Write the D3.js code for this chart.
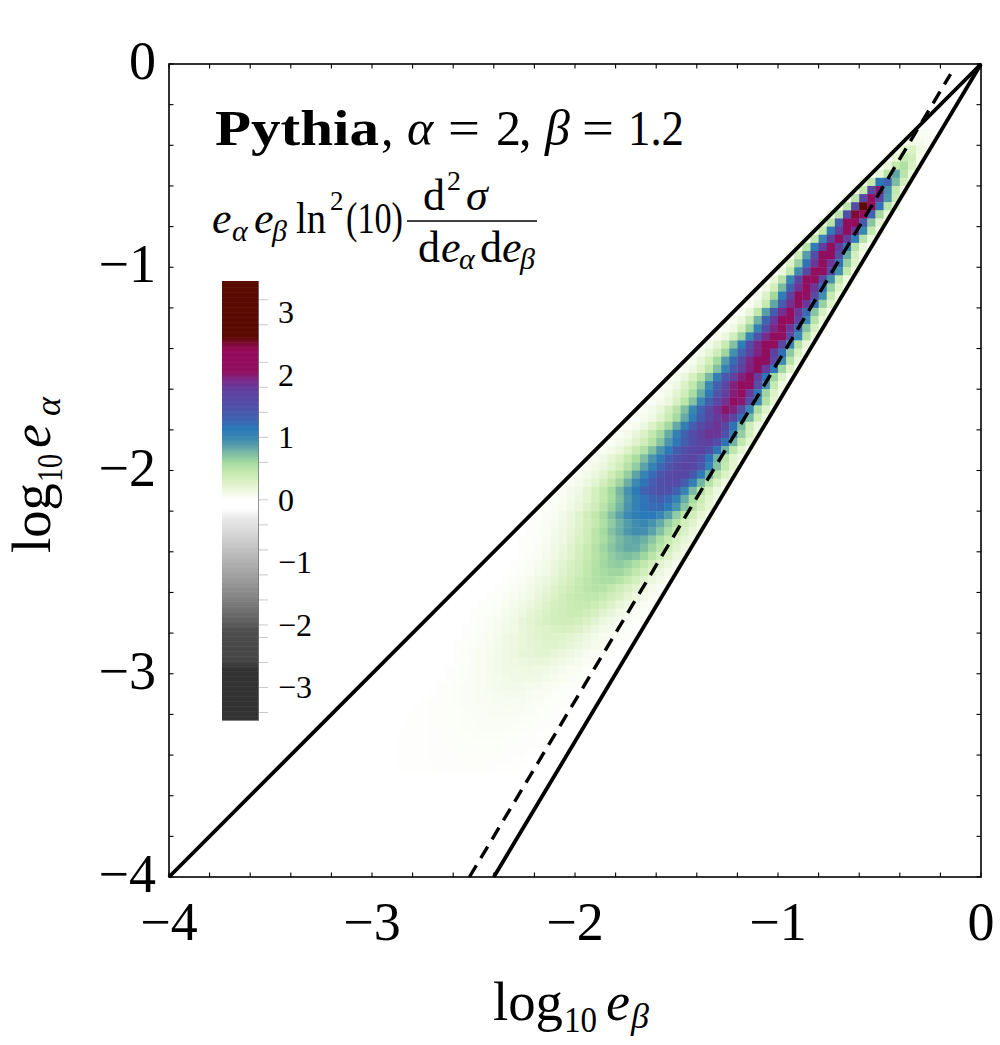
<!DOCTYPE html>
<html><head><meta charset="utf-8">
<script src="https://cdn.jsdelivr.net/npm/d3@7"></script>
<style>
body{margin:0;background:#fff}
text{font-family:"Liberation Serif","Times New Roman",serif;fill:#000}
</style>
</head><body>
<svg id="chart" width="1000" height="1045"></svg>
<script>
// ---------------- data ----------------
const xDomain = [-4, 0];
const yDomain = [-4, 0];
const xTicks = [-4, -3, -2, -1, 0];
const yTicks = [-4, -3, -2, -1, 0];
const minorStep = 0.2;
const cellSize = 0.04; // bin width in log10 units

// each entry: [row (from top, bin of log10 e_alpha), first column (bin of log10 e_beta), values...]
const heatRows = [
[8,91,[0.03,0.06,0.06,0.03]],
[9,90,[0.05,0.12,0.1,0.05]],
[10,89,[0.06,0.22,0.3,0.15,0.06]],
[11,88,[0.06,0.2,0.42,0.35,0.12]],
[12,87,[0.05,0.18,0.45,0.55,0.3,0.1]],
[13,86,[0.05,0.2,0.5,0.85,0.5,0.18]],
[14,85,[0.15,0.45,1.15,1.3,0.75,0.35]],
[15,84,[0.12,0.45,1.6,2.0,0.95,0.45,0.15]],
[16,83,[0.1,0.5,1.6,2.2,1.65,0.9,0.4]],
[17,82,[0.15,0.5,1.55,2.9,2.3,1.2,0.5,0.2]],
[18,81,[0.2,0.5,1.5,2.5,2.2,1.3,0.6,0.2]],
[19,80,[0.2,0.5,1.3,2.2,2.3,1.4,0.7,0.25]],
[20,79,[0.15,0.45,1.1,1.7,2.2,1.85,1.0,0.45,0.15]],
[21,78,[0.14,0.46,1.03,1.75,2.15,1.77,1.09,0.52,0.18]],
[22,77,[0.18,0.53,1.1,1.76,2.15,1.77,1.09,0.52,0.18,0.04]],
[23,76,[0.13,0.4,0.88,1.55,2.13,2.12,1.51,0.82,0.34,0.1]],
[24,75,[0.09,0.28,0.65,1.2,1.83,2.15,1.83,1.2,0.65,0.28]],
[25,74,[0.05,0.17,0.47,0.98,1.62,2.15,2.14,1.6,0.96,0.45,0.16]],
[26,73,[0.06,0.2,0.52,1.02,1.65,2.15,2.14,1.6,0.96,0.45,0.16]],
[27,72,[0.04,0.14,0.36,0.76,1.3,1.86,2.15,1.83,1.2,0.65,0.28,0.09]],
[28,71,[0.03,0.09,0.27,0.61,1.1,1.7,2.16,2.14,1.6,0.96,0.45,0.16]],
[29,70,[0.02,0.06,0.17,0.43,0.84,1.37,1.88,2.15,1.83,1.2,0.65,0.28]],
[30,69,[0.02,0.07,0.19,0.46,0.87,1.39,1.89,2.15,1.81,1.26,0.71,0.32,0.11]],
[31,68,[0.02,0.07,0.18,0.41,0.79,1.27,1.81,2.18,2.15,1.65,1.02,0.52,0.2]],
[32,67,[0.02,0.06,0.15,0.34,0.65,1.05,1.53,1.94,2.15,1.81,1.26,0.71,0.32,0.11]],
[33,66,[0.03,0.07,0.17,0.35,0.64,1.02,1.46,1.9,2.2,2.15,1.65,1.02,0.52,0.2]],
[34,65,[0.04,0.11,0.22,0.42,0.72,1.1,1.53,1.93,2.2,2.15,1.65,1.02,0.52,0.2]],
[35,64,[0.04,0.1,0.21,0.38,0.63,0.95,1.3,1.68,1.95,2.1,1.76,1.23,0.69,0.32,0.1]],
[36,63,[0.04,0.1,0.2,0.36,0.6,0.89,1.23,1.6,1.94,2.16,2.09,1.61,0.99,0.51,0.2]],
[37,62,[0.04,0.08,0.15,0.29,0.48,0.73,1.04,1.38,1.72,1.96,2.1,1.79,1.18,0.63,0.27,0.08]],
[38,61,[0.04,0.09,0.18,0.32,0.51,0.77,1.08,1.41,1.73,1.97,2.1,1.79,1.18,0.63,0.27,0.08]],
[39,60,[0.04,0.08,0.15,0.29,0.45,0.69,0.99,1.32,1.67,1.96,2.16,2.08,1.56,0.94,0.44,0.15]],
[40,59,[0.03,0.06,0.12,0.22,0.37,0.58,0.82,1.12,1.45,1.76,1.98,2.1,1.79,1.18,0.63,0.27,0.08]],
[41,58,[0.03,0.05,0.1,0.18,0.31,0.49,0.72,1.0,1.31,1.64,1.88,2.06,2.0,1.56,1.0,0.54,0.22]],
[42,57,[0.03,0.06,0.11,0.19,0.33,0.51,0.74,1.0,1.3,1.61,1.85,2.02,1.96,1.56,1.01,0.57,0.27,0.09]],
[43,56,[0.02,0.04,0.09,0.15,0.26,0.41,0.6,0.83,1.09,1.37,1.62,1.8,1.9,1.67,1.23,0.77,0.4,0.17]],
[44,55,[0.03,0.05,0.09,0.17,0.28,0.43,0.61,0.83,1.08,1.35,1.58,1.76,1.85,1.63,1.19,0.75,0.39,0.17]],
[45,54,[0.03,0.06,0.11,0.19,0.29,0.44,0.61,0.82,1.06,1.3,1.55,1.73,1.86,1.82,1.51,1.06,0.66,0.34,0.15]],
[46,53,[0.03,0.06,0.1,0.16,0.25,0.37,0.53,0.71,0.91,1.13,1.36,1.54,1.68,1.75,1.56,1.19,0.79,0.46,0.23]],
[47,52,[0.04,0.07,0.11,0.18,0.28,0.41,0.55,0.73,0.92,1.13,1.34,1.5,1.64,1.7,1.52,1.18,0.8,0.48,0.24,0.1]],
[48,51,[0.05,0.08,0.13,0.21,0.3,0.43,0.58,0.74,0.92,1.12,1.32,1.47,1.59,1.65,1.49,1.17,0.81,0.5,0.26,0.12]],
[49,50,[0.03,0.07,0.11,0.17,0.26,0.37,0.51,0.67,0.86,1.05,1.26,1.45,1.58,1.68,1.66,1.42,1.07,0.73,0.45,0.24]],
[50,49,[0.03,0.07,0.11,0.17,0.26,0.37,0.5,0.66,0.85,1.04,1.24,1.43,1.56,1.66,1.64,1.43,1.11,0.79,0.5,0.29,0.15]],
[51,48,[0.03,0.06,0.1,0.16,0.24,0.35,0.48,0.63,0.81,0.99,1.18,1.36,1.49,1.58,1.56,1.37,1.08,0.78,0.51,0.3,0.16]],
[52,47,[0.03,0.06,0.1,0.15,0.23,0.33,0.46,0.6,0.77,0.94,1.12,1.29,1.41,1.5,1.49,1.31,1.04,0.76,0.51,0.31,0.17,0.08]],
[53,46,[0.03,0.04,0.07,0.11,0.17,0.24,0.34,0.46,0.59,0.74,0.9,1.06,1.17,1.27,1.32,1.23,1.06,0.82,0.59,0.4,0.24,0.13]],
[54,46,[0.03,0.05,0.08,0.13,0.19,0.28,0.38,0.5,0.64,0.78,0.93,1.07,1.17,1.24,1.23,1.11,0.92,0.71,0.51,0.34,0.21]],
[55,45,[0.02,0.05,0.07,0.12,0.18,0.26,0.35,0.46,0.59,0.72,0.86,0.99,1.08,1.14,1.14,1.03,0.87,0.68,0.5,0.35,0.22,0.13]],
[56,44,[0.02,0.03,0.05,0.08,0.13,0.18,0.26,0.35,0.45,0.56,0.68,0.8,0.89,0.97,1.0,0.94,0.83,0.67,0.51,0.37,0.25,0.15]],
[57,44,[0.02,0.04,0.06,0.1,0.15,0.21,0.29,0.38,0.49,0.6,0.72,0.82,0.9,0.96,0.95,0.86,0.73,0.57,0.42,0.29,0.18,0.11]],
[58,43,[0.02,0.03,0.04,0.07,0.11,0.15,0.22,0.3,0.38,0.48,0.58,0.68,0.76,0.82,0.85,0.8,0.7,0.57,0.43,0.31,0.21,0.13]],
[59,43,[0.02,0.03,0.05,0.08,0.13,0.18,0.25,0.33,0.42,0.52,0.62,0.71,0.78,0.83,0.82,0.74,0.63,0.5,0.37,0.25,0.16]],
[60,43,[0.02,0.04,0.06,0.1,0.14,0.2,0.26,0.34,0.42,0.51,0.6,0.67,0.72,0.75,0.71,0.62,0.5,0.38,0.27,0.18,0.11]],
[61,42,[0.02,0.03,0.05,0.09,0.12,0.18,0.24,0.31,0.38,0.46,0.54,0.61,0.66,0.68,0.64,0.56,0.46,0.35,0.25,0.17,0.1]],
[62,42,[0.03,0.04,0.06,0.1,0.14,0.19,0.25,0.32,0.39,0.47,0.54,0.59,0.62,0.62,0.55,0.46,0.35,0.26,0.17,0.1,0.06]],
[63,41,[0.02,0.04,0.06,0.09,0.13,0.17,0.23,0.29,0.36,0.43,0.49,0.54,0.57,0.57,0.51,0.44,0.34,0.25,0.17,0.11,0.07]],
[64,40,[0.02,0.03,0.05,0.08,0.12,0.16,0.21,0.27,0.33,0.39,0.45,0.49,0.52,0.51,0.46,0.39,0.31,0.23,0.16,0.1,0.06]],
[65,39,[0.02,0.03,0.05,0.07,0.11,0.14,0.19,0.24,0.3,0.36,0.41,0.45,0.47,0.47,0.43,0.37,0.3,0.22,0.16,0.11,0.07,0.04]],
[66,38,[0.02,0.03,0.04,0.07,0.1,0.13,0.17,0.22,0.27,0.33,0.37,0.41,0.43,0.43,0.4,0.34,0.27,0.2,0.15,0.1,0.06,0.03]],
[67,37,[0.02,0.03,0.04,0.06,0.09,0.12,0.16,0.21,0.25,0.3,0.35,0.38,0.4,0.4,0.37,0.32,0.25,0.19,0.14,0.09,0.06,0.03,0.02]],
[68,37,[0.02,0.04,0.06,0.08,0.11,0.15,0.19,0.24,0.28,0.32,0.35,0.37,0.37,0.34,0.29,0.23,0.17,0.13,0.08,0.05,0.03,0.02]],
[69,36,[0.02,0.03,0.04,0.06,0.08,0.11,0.14,0.18,0.22,0.26,0.28,0.31,0.32,0.3,0.27,0.22,0.17,0.12,0.09,0.06,0.03,0.02]],
[70,36,[0.02,0.04,0.05,0.07,0.1,0.13,0.16,0.19,0.22,0.25,0.27,0.28,0.26,0.24,0.2,0.16,0.12,0.08,0.06,0.04,0.02]],
[71,35,[0.02,0.03,0.04,0.06,0.08,0.1,0.13,0.16,0.19,0.22,0.24,0.26,0.26,0.23,0.2,0.17,0.13,0.09,0.07,0.04,0.02]],
[72,35,[0.02,0.04,0.05,0.07,0.09,0.12,0.14,0.17,0.2,0.21,0.23,0.23,0.21,0.18,0.15,0.11,0.08,0.06,0.04,0.02]],
[73,35,[0.02,0.03,0.05,0.07,0.09,0.11,0.13,0.15,0.17,0.18,0.19,0.18,0.16,0.13,0.11,0.08,0.06,0.04,0.02]],
[74,34,[0.02,0.03,0.04,0.06,0.07,0.09,0.11,0.13,0.14,0.15,0.16,0.15,0.14,0.11,0.09,0.07,0.05,0.03,0.02]],
[75,34,[0.02,0.03,0.04,0.06,0.07,0.09,0.1,0.12,0.13,0.14,0.14,0.13,0.11,0.09,0.07,0.05,0.04,0.02]],
[76,33,[0.02,0.03,0.04,0.05,0.06,0.07,0.09,0.1,0.11,0.11,0.11,0.1,0.09,0.07,0.06,0.04,0.03,0.02]],
[77,32,[0.015,0.02,0.03,0.04,0.05,0.06,0.07,0.08,0.09,0.09,0.095,0.09,0.08,0.07,0.055,0.04,0.03,0.02]],
[78,31,[0.015,0.02,0.025,0.03,0.04,0.05,0.055,0.065,0.07,0.075,0.08,0.08,0.075,0.065,0.055,0.045,0.035,0.025,0.015]],
[79,30,[0.012,0.015,0.02,0.025,0.03,0.035,0.045,0.05,0.055,0.065,0.068,0.07,0.068,0.062,0.055,0.045,0.035,0.025,0.015]],
[80,29,[0.01,0.012,0.015,0.02,0.025,0.03,0.035,0.04,0.045,0.05,0.055,0.06,0.06,0.057,0.052,0.045,0.037,0.028,0.02,0.012]],
[81,29,[0.01,0.012,0.015,0.02,0.024,0.028,0.033,0.038,0.042,0.046,0.05,0.05,0.047,0.043,0.037,0.03,0.023,0.016,0.01]],
[82,28,[0.008,0.01,0.012,0.015,0.018,0.022,0.026,0.03,0.033,0.036,0.039,0.04,0.039,0.036,0.032,0.027,0.021,0.015,0.01]],
[83,28,[0.008,0.01,0.012,0.014,0.017,0.02,0.023,0.026,0.029,0.032,0.034,0.035,0.034,0.031,0.027,0.022,0.017,0.012,0.008]],
[84,27,[0.007,0.009,0.011,0.013,0.015,0.017,0.02,0.022,0.025,0.027,0.029,0.03,0.029,0.027,0.024,0.02,0.016,0.012,0.008]],
[85,27,[0.006,0.008,0.01,0.012,0.014,0.016,0.018,0.02,0.022,0.024,0.025,0.025,0.024,0.021,0.018,0.014,0.01,0.007]],
[86,26,[0.005,0.006,0.008,0.01,0.011,0.013,0.015,0.017,0.018,0.019,0.02,0.02,0.019,0.017,0.014,0.011,0.008,0.005]]
];

// colour bar
const cbDomain = [-3.52, 3.5];
const cbLabels = [3, 2, 1, 0, -1, -2, -3];
const cbTicks = [3.2, 2.8, 2.2, 1.8, 1.4, 1.0, 0.6, 0, -0.4, -0.8, -1.2, -1.6, -2.0, -2.2, -2.6, -3.0, -3.4];
const cbStops = [-3.52, -2.7, -2.55, -2.1, -1.9, -1.6, -1.3, -1.0, -0.6, -0.3, -0.12, 0, 0.05, 0.15, 0.3, 0.45, 0.6, 0.78, 0.9, 1.0, 1.15, 1.3, 1.5, 1.75, 1.92, 2.05, 2.4, 2.52, 2.62, 3.5];
const cbColors = ["#333333","#333333","#474747","#4d4d4d","#636363","#808080","#999999","#b0b0b0","#d0d0d0","#e8e8e8","#ffffff","#ffffff","#fafdf5","#eef8e2","#daf1c4","#c4e9ae","#a6dba0","#74b6a4","#4f98ab","#3a88b2","#2a78b8","#4062b0","#5050a8","#5f40a0","#7a2a8c","#900f60","#960a5a","#7a0a30","#5a0a00","#5a0a00"];

// reference lines (log10 e_beta, log10 e_alpha)
const upperLine = [[-4, -4], [0, 0]];
const lowerLine = [[-2.4, -4], [0, 0]];
const dashLine  = [[-2.52, -4], [-0.15, -0.05]];

// ---------------- drawing ----------------
const svg = d3.select("#chart");
const L = 169, R = 981, T = 64, B = 877;
const x = d3.scaleLinear().domain(xDomain).range([L, R]);
const y = d3.scaleLinear().domain(yDomain).range([B, T]);
const color = d3.scaleLinear().domain(cbStops).range(cbColors).interpolate(d3.interpolateRgb).clamp(true);

svg.append("rect").attr("width", 1000).attr("height", 1045).attr("fill", "#fff");

// heat map
const cells = heatRows.flatMap(([r, c0, vals]) => vals.map((v, k) => ({r, c: c0 + k, v})));
svg.append("g").selectAll("rect").data(cells.filter(d => d.v > 0.004)).join("rect")
  .attr("x", d => x(xDomain[0] + d.c * cellSize))
  .attr("y", d => y(yDomain[1] - d.r * cellSize))
  .attr("width", d => x(xDomain[0] + (d.c + 1) * cellSize) - x(xDomain[0] + d.c * cellSize) + 0.4)
  .attr("height", d => y(yDomain[1] - (d.r + 1) * cellSize) - y(yDomain[1] - d.r * cellSize) + 0.4)
  .attr("fill", d => color(d.v));

// lines
const line = d3.line().x(d => x(d[0])).y(d => y(d[1]));
svg.append("path").attr("d", line(upperLine)).attr("stroke", "#000").attr("stroke-width", 3.8).attr("fill", "none");
svg.append("path").attr("d", line(lowerLine)).attr("stroke", "#000").attr("stroke-width", 3.8).attr("fill", "none");
svg.append("path").attr("d", line(dashLine)).attr("stroke", "#000").attr("stroke-width", 3.4)
  .attr("stroke-dasharray", "13.5,8.5").attr("fill", "none");

// frame + ticks
const minor = d3.range(0, 21).map(k => xDomain[0] + k * minorStep);
const tg = svg.append("g").attr("stroke", "#000").attr("stroke-width", 1.1);
minor.forEach(v => {
  const px = x(v), py = y(v);
  tg.append("line").attr("x1", px).attr("x2", px).attr("y1", B).attr("y2", B - 4.5);
  tg.append("line").attr("x1", px).attr("x2", px).attr("y1", T).attr("y2", T + 4.5);
  tg.append("line").attr("y1", py).attr("y2", py).attr("x1", L).attr("x2", L + 4.5);
  tg.append("line").attr("y1", py).attr("y2", py).attr("x1", R).attr("x2", R - 4.5);
});
svg.append("rect").attr("x", L).attr("y", T).attr("width", R - L).attr("height", B - T)
  .attr("fill", "none").attr("stroke", "#000").attr("stroke-width", 1.6);

const fmt = v => (v < 0 ? "\u2212" + Math.abs(v) : String(v));
svg.append("g").selectAll("text").data(xTicks).join("text")
  .attr("x", d => x(d)).attr("y", 940).attr("text-anchor", "middle").attr("font-size", 54).text(fmt);
svg.append("g").selectAll("text").data(yTicks).join("text")
  .attr("x", 156).attr("y", d => y(d) + 15).attr("text-anchor", "end").attr("font-size", 54).text(fmt);

// axis titles
function piece(g, str, px, py, size, opts = {}) {
  const t = g.append("text").attr("x", px).attr("y", py).attr("font-size", size).text(str);
  if (opts.italic) t.attr("font-style", "italic");
  if (opts.bold) t.attr("font-weight", "bold");
  if (opts.len) t.attr("textLength", opts.len).attr("lengthAdjust", "spacingAndGlyphs");
  return t;
}
const xt = svg.append("g");
piece(xt, "log", 493, 1020, 54, {len: 70});
piece(xt, "10", 564, 1032, 36, {len: 33});
piece(xt, "e", 606, 1020, 54, {italic: true});
piece(xt, "\u03B2", 631, 1028, 36, {italic: true});

const yt = svg.append("g").attr("transform", "translate(50,553) rotate(-90)");
piece(yt, "log", 0, 0, 54, {len: 70});
piece(yt, "10", 71, 12, 36, {len: 28});
piece(yt, "e", 105, 0, 54, {italic: true});
piece(yt, "\u03B1", 137, 10, 36, {italic: true});

// title
const tt = svg.append("g");
piece(tt, "Pythia", 215, 145, 50, {bold: true, len: 164});
piece(tt, ",", 381, 145, 50);
piece(tt, "\u03B1", 407, 145, 50, {italic: true});
piece(tt, "=", 448, 145, 50, {len: 32});
piece(tt, "2", 496, 145, 50);
piece(tt, ",", 519, 145, 50);
piece(tt, "\u03B2", 545, 145, 50, {italic: true});
piece(tt, "=", 582, 145, 50, {len: 32});
piece(tt, "1.2", 628, 145, 50, {len: 56});

// colour bar label (formula)
const fl = svg.append("g");
piece(fl, "e", 212, 233, 44, {italic: true});
piece(fl, "\u03B1", 232, 241, 30, {italic: true});
piece(fl, "e", 254, 233, 44, {italic: true});
piece(fl, "\u03B2", 272, 241, 30, {italic: true});
piece(fl, "ln", 296, 233, 44, {len: 30});
piece(fl, "2", 330, 210, 27);
piece(fl, "(10)", 346, 233, 44, {len: 57});
fl.append("line").attr("x1", 407).attr("x2", 537).attr("y1", 221).attr("y2", 221).attr("stroke", "#000").attr("stroke-width", 1.6);
piece(fl, "d", 423, 210, 44);
piece(fl, "2", 447, 190, 28);
piece(fl, "\u03C3", 466, 210, 44, {italic: true});
piece(fl, "d", 418, 262, 44);
piece(fl, "e", 441, 262, 44, {italic: true});
piece(fl, "\u03B1", 459, 269, 30, {italic: true});
piece(fl, "d", 480, 262, 44);
piece(fl, "e", 502, 262, 44, {italic: true});
piece(fl, "\u03B2", 520, 269, 30, {italic: true});

// colour bar
const cbX0 = 222, cbX1 = 259;
const cb = d3.scaleLinear().domain(cbDomain).range([720, 281]);
const steps = d3.range(cbDomain[0], cbDomain[1], 0.02);
svg.append("g").selectAll("rect").data(steps).join("rect")
  .attr("x", cbX0).attr("width", cbX1 - cbX0)
  .attr("y", d => cb(d + 0.02)).attr("height", d => cb(d) - cb(d + 0.02) + 0.6)
  .attr("fill", d => color(d + 0.01));
svg.append("line").attr("x1", cbX1 - 0.5).attr("x2", cbX1 - 0.5).attr("y1", 281).attr("y2", 720)
  .attr("stroke", "#777").attr("stroke-width", 0.8);
svg.append("g").selectAll("line").data(cbTicks).join("line")
  .attr("x1", cbX1).attr("x2", cbX1 + 9).attr("y1", d => cb(d)).attr("y2", d => cb(d))
  .attr("stroke", "#c8c8c8").attr("stroke-width", 1);
svg.append("g").selectAll("text").data(cbLabels).join("text")
  .attr("x", 278).attr("y", d => cb(d) + 11).attr("font-size", 32).text(fmt);
</script>
</body></html>
